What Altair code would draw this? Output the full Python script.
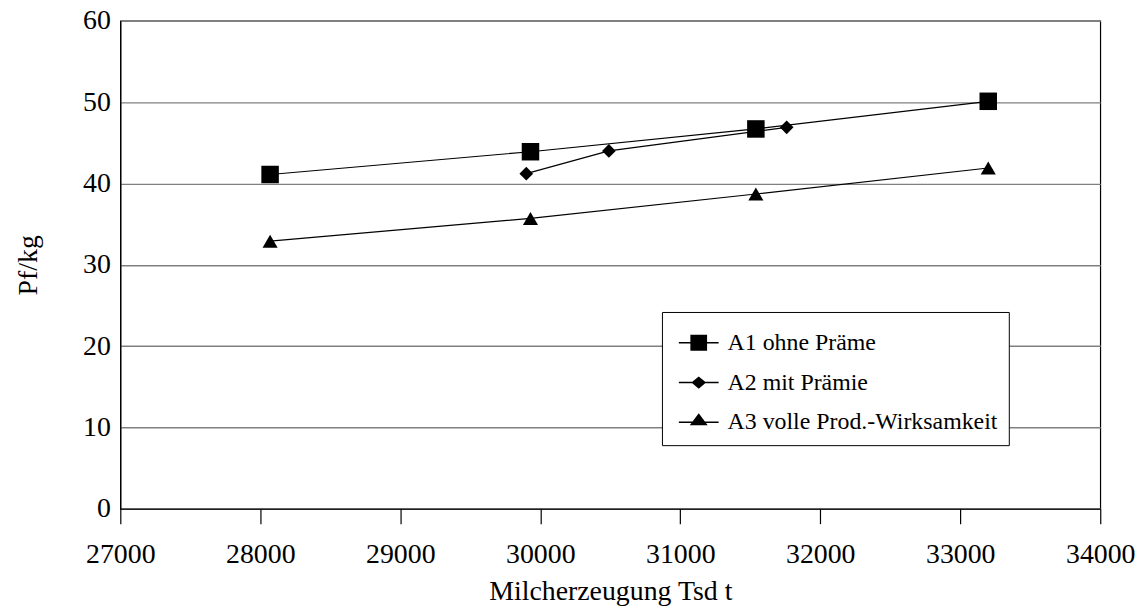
import altair as alt
import pandas as pd

# ---- data ----
series = ["A1 ohne Präme", "A2 mit Prämie", "A3 volle Prod.-Wirksamkeit"]

a1_x = [28070, 29930, 31540, 33200]
a1_y = [41.1, 43.9, 46.7, 50.1]

a2_x = [29900, 30490, 31760]
a2_y = [41.2, 44.0, 46.9]

a3_x = [28070, 29930, 31540, 33200]
a3_y = [32.9, 35.7, 38.7, 41.9]

x_ticks = [27000, 28000, 29000, 30000, 31000, 32000, 33000, 34000]
y_ticks = [0, 10, 20, 30, 40, 50, 60]

rows = []
for name, xs, ys in zip(series, [a1_x, a2_x, a3_x], [a1_y, a2_y, a3_y]):
    for xv, yv in zip(xs, ys):
        rows.append({"series": name, "x": xv, "y": yv})
df = pd.DataFrame(rows)

FONT = "Liberation Serif"

xenc = alt.X(
    "x:Q",
    scale=alt.Scale(domain=[27000, 34000], nice=False, zero=False),
    axis=alt.Axis(
        values=x_ticks, format="d", grid=False, tickSize=15, tickColor="black",
        tickWidth=1.2, domainColor="black", domainWidth=1.2, labelFlush=False,
        labelOverlap=False, labelPadding=17, labelFontSize=28, titleFontSize=28,
        titlePadding=9, labelFont=FONT, titleFont=FONT, labelColor="black",
        titleColor="black", titleFontWeight="normal",
    ),
    title="Milcherzeugung Tsd t",
)
yenc = alt.Y(
    "y:Q",
    scale=alt.Scale(domain=[0, 60], nice=False),
    axis=alt.Axis(
        values=y_ticks, format="d", grid=True, gridColor="#808080", gridWidth=1.3,
        ticks=False, tickSize=0, domainColor="black", domainWidth=1.2,
        labelPadding=10, labelFontSize=28, titleFontSize=28, titlePadding=40,
        labelFont=FONT, titleFont=FONT, labelColor="black", titleColor="black",
        titleFontWeight="normal",
    ),
    title="Pf/kg",
)

lines = alt.Chart(df).mark_line(color="black", strokeWidth=1.2).encode(
    x=xenc, y=yenc, detail="series:N"
)

shapes = ["square", "diamond", "triangle-up"]
sizes = [310, 190, 230]
point_layers = []
for name, shp, sz in zip(series, shapes, sizes):
    point_layers.append(
        alt.Chart(df)
        .transform_filter(alt.datum.series == name)
        .mark_point(shape=shp, size=sz, filled=True, color="black", opacity=1)
        .encode(x=xenc, y=yenc)
    )

# legend symbols: a short line (thin filled bar) with the marker in the middle
BAR = "M-1,-0.035H1V0.035H-1Z"
legend_paths = [
    BAR + "M-0.42,-0.4H0.42V0.4H-0.42Z",
    BAR + "M-0.37,0L0,-0.31L0.37,0L0,0.31Z",
    BAR + "M0,-0.45L0.45,0.15H-0.45Z",
]

legend_layer = (
    alt.Chart(df)
    .transform_filter("false")
    .mark_point(filled=True, color="black", opacity=1)
    .encode(
        x=xenc,
        y=yenc,
        shape=alt.Shape(
            "series:N",
            scale=alt.Scale(domain=series, range=legend_paths),
            legend=alt.Legend(
                title=None, orient="none", legendX=545, legendY=293, padding=11,
                strokeColor="black", fillColor="white", cornerRadius=0,
                rowPadding=8, symbolSize=1600, labelFontSize=24, labelFont=FONT,
                labelColor="black", labelOffset=9, symbolOffset=6, labelLimit=500,
                symbolStrokeWidth=0, symbolFillColor="black", symbolOpacity=1,
            ),
        ),
    )
)

chart = (
    alt.layer(lines, *point_layers, legend_layer)
    .properties(
        width=986, height=491,
        autosize=alt.AutoSizeParams(type="none"),
        padding={"left": 113, "top": 11, "right": 40, "bottom": 100},
        background="white",
    )
    .configure_view(stroke="black", strokeWidth=1.2)
)

chart.save("out.html", embed_options={"renderer": "svg", "actions": False})
